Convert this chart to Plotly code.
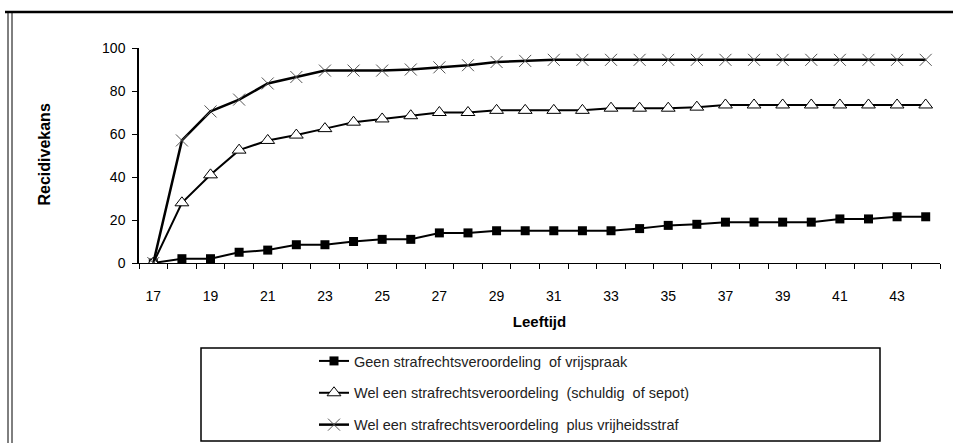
import plotly.graph_objects as go

ages = list(range(17, 45))
geen = [0, 2, 2, 5, 6, 8.5, 8.5, 10, 11, 11, 14, 14, 15, 15, 15, 15, 15, 16,
        17.5, 18, 19, 19, 19, 19, 20.5, 20.5, 21.5, 21.5]
wel = [0, 28, 41, 52.5, 57, 59.5, 62.5, 65.5, 67, 68.5, 70, 70, 71, 71, 71, 71,
       72, 72, 72, 72.5, 73.5, 73.5, 73.5, 73.5, 73.5, 73.5, 73.5, 73.5]
vrij = [0, 57, 70.5, 76, 83.5, 86.5, 89.5, 89.5, 89.5, 90, 91, 92, 93.5, 94, 94.5,
        94.5, 94.5, 94.5, 94.5, 94.5, 94.5, 94.5, 94.5, 94.5, 94.5, 94.5, 94.5, 94.5]
odd_ticks = list(range(17, 45, 2))
names = ["Geen strafrechtsveroordeling  of vrijspraak",
         "Wel een strafrechtsveroordeling  (schuldig  of sepot)",
         "Wel een strafrechtsveroordeling  plus vrijheidsstraf"]

W, H = 953, 443
L, R, T, B = 139, 940, 48, 263


def px2x(px):
    return (px - L) / (R - L)


def px2y(py):
    return (B - py) / (B - T)


FONT = "Liberation Sans, Arial, sans-serif"

fig = go.Figure()
fig.add_trace(go.Scatter(
    x=ages, y=geen, name=names[0], mode="lines+markers", legendgroup="a",
    line=dict(color="black", width=2),
    marker=dict(symbol="square", size=9, color="black")))
fig.add_trace(go.Scatter(
    x=ages, y=wel, name=names[1], mode="lines+markers", legendgroup="b",
    line=dict(color="black", width=2),
    marker=dict(symbol="triangle-up", size=12, color="white",
                line=dict(color="black", width=1))))
fig.add_trace(go.Scatter(
    x=ages, y=vrij, name=names[2], mode="lines+markers", legendgroup="c",
    line=dict(color="black", width=2.5),
    marker=dict(symbol="x-thin", size=12, color="#555",
                line=dict(color="#555", width=1))))

shapes = [
    # outer frame
    dict(type="line", xref="paper", yref="paper", x0=px2x(5), x1=px2x(953),
         y0=px2y(12), y1=px2y(12), line=dict(color="black", width=2.5)),
    dict(type="line", xref="paper", yref="paper", x0=px2x(8), x1=px2x(8),
         y0=px2y(12), y1=px2y(443), line=dict(color="black", width=1)),
    dict(type="line", xref="paper", yref="paper", x0=px2x(12), x1=px2x(12),
         y0=px2y(12), y1=px2y(443), line=dict(color="black", width=1)),
    # legend box
    dict(type="rect", xref="paper", yref="paper", x0=px2x(201), x1=px2x(880),
         y0=px2y(441), y1=px2y(348), line=dict(color="black", width=1.5)),
]

fig.update_layout(
    width=W, height=H,
    margin=dict(l=L, r=W - R, t=T, b=H - B, autoexpand=False),
    paper_bgcolor="white", plot_bgcolor="white",
    font=dict(family=FONT, size=13, color="black"),
    showlegend=True,
    legend=dict(xref="container", yref="container",
                x=314 / W, y=1 - 345 / H, xanchor="left", yanchor="top",
                font=dict(family=FONT, size=14.5, color="#222"),
                tracegroupgap=10, bgcolor="rgba(0,0,0,0)", borderwidth=0),
    shapes=shapes,
    annotations=[dict(text="<b>Recidivekans</b>", xref="paper", yref="paper",
                      x=px2x(33), y=px2y(155), textangle=-90, showarrow=False,
                      font=dict(family=FONT, size=16, color="black"))],
    xaxis=dict(
        range=[16.5, 44.5], tickmode="array", tickvals=odd_ticks,
        ticktext=[str(v) for v in odd_ticks], ticks="", showgrid=False,
        zeroline=False, showline=True, linecolor="black", linewidth=1,
        ticklabelstandoff=20, tickfont=dict(size=14),
        minor=dict(tick0=16.5, dtick=1, ticks="outside", ticklen=5,
                   tickcolor="black", tickwidth=1, showgrid=False),
        title=dict(text="<b>Leeftijd</b>", font=dict(size=15), standoff=13),
    ),
    yaxis=dict(
        range=[0, 100], dtick=20, ticks="outside", ticklen=5, tickcolor="black",
        showgrid=False, zeroline=False, showline=True, linecolor="black",
        linewidth=1.5, ticklabelstandoff=4, tickfont=dict(size=14),
    ),
)

fig.write_html("out.html", config={"displayModeBar": False},
               post_script="document.body.style.margin='0';"
                           "document.body.style.padding='0';")
